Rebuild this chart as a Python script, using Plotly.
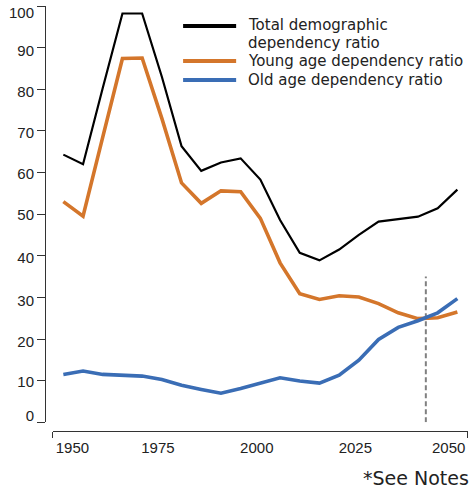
import plotly.graph_objects as go

# ---------------- data ----------------
years = [1950, 1955, 1960, 1965, 1970, 1975, 1980, 1985, 1990, 1995, 2000,
         2005, 2010, 2015, 2020, 2025, 2030, 2035, 2040, 2045, 2050]
total_ratio = [64.3, 62.0, 80.3, 98.2, 98.2, 83.0, 66.3, 60.4, 62.4, 63.4, 58.3,
               48.6, 40.7, 38.9, 41.5, 45.0, 48.2, 48.8, 49.4, 51.4, 55.9]
young_ratio = [53.0, 49.5, 68.5, 87.4, 87.5, 73.0, 57.5, 52.6, 55.6, 55.4, 49.0,
               38.3, 30.9, 29.5, 30.4, 30.1, 28.5, 26.3, 24.9, 25.1, 26.5]
old_ratio = [11.5, 12.3, 11.5, 11.3, 11.1, 10.3, 8.9, 7.9, 7.0, 8.1, 9.3,
             10.7, 9.9, 9.4, 11.3, 14.9, 19.9, 22.8, 24.4, 26.3, 29.7]

y_tick_values = [0, 10, 20, 30, 40, 50, 60, 70, 80, 90, 100]
y_tick_labels = ["0", "10", "20", "30", "40", "50", "60", "70", "80", "90", "100"]
x_tick_labels = ["1950", "1975", "2000", "2025", "2050"]

divider_year = 2042
divider_top = 35

series_names = ["Total demographic dependency ratio",
                "Young age dependency ratio",
                "Old age dependency ratio"]
legend_lines = ["Total demographic", "dependency ratio",
                "Young age dependency ratio", "Old age dependency ratio"]
note_text = "*See Notes"

# ---------------- styling / layout helpers ----------------
BLACK = "#000000"
ORANGE = "#D4762B"
BLUE = "#3A6DB5"
TEXT = "#222222"
AXIS = "#333333"

W, H = 472, 492
L, R, T, B = 45, 4.3, 6, 61.3
PW = W - L - R
PH = H - T - B


def pxx(x):
    return (x - L) / PW


def pxy(y):
    return (H - B - y) / PH


# label positions (slightly offset from the true years, as in the original artwork)
x_label_pos = [1952.3, 1974.0, 1999.1, 2024.1, 2047.8]
y_label_pos = [1.5, 9.8, 19.4, 29.3, 39.6, 49.8, 59.8, 69.6, 79.5, 89.2, 98.4]

tick_font = dict(family="Liberation Sans Narrow, Arial Narrow, Liberation Sans, sans-serif",
                 size=15, color=TEXT)
legend_font = dict(family="DejaVu Sans, Verdana, sans-serif", size=15, color=TEXT)

fig = go.Figure()

fig.add_trace(go.Scatter(x=[divider_year, divider_year], y=[0, divider_top],
                         mode="lines", line=dict(color="#808080", width=2, dash="5px,3px"),
                         showlegend=False, hoverinfo="skip"))
fig.add_trace(go.Scatter(x=years, y=young_ratio, mode="lines", name=series_names[1],
                         line=dict(color=ORANGE, width=3.6), showlegend=False))
fig.add_trace(go.Scatter(x=years, y=old_ratio, mode="lines", name=series_names[2],
                         line=dict(color=BLUE, width=3.6), showlegend=False))
fig.add_trace(go.Scatter(x=years, y=total_ratio, mode="lines", name=series_names[0],
                         yaxis="y2",
                         line=dict(color=BLACK, width=2.2), showlegend=False))

# manual legend
legend_rows_y = [25.3, 43.2, 61, 80]
swatch_rows = [(BLACK, 26), (ORANGE, 61), (BLUE, 80)]
for color, yy in swatch_rows:
    fig.add_shape(type="line", xref="paper", yref="paper",
                  x0=pxx(183), x1=pxx(236), y0=pxy(yy), y1=pxy(yy),
                  line=dict(color=color, width=4))
for text, yy in zip(legend_lines, legend_rows_y):
    fig.add_annotation(text=text, xref="paper", yref="paper", x=pxx(246), y=pxy(yy),
                       xanchor="left", yanchor="middle", showarrow=False, font=legend_font)

fig.add_annotation(text=note_text, xref="paper", yref="paper", x=pxx(471), y=pxy(478),
                   xanchor="right", yanchor="middle", showarrow=False,
                   font=dict(family="DejaVu Sans, Verdana, sans-serif", size=19, color=TEXT))

fig.update_layout(
    width=W, height=H,
    margin=dict(l=L, r=R, t=T, b=B, pad=0),
    paper_bgcolor="white", plot_bgcolor="white",
    showlegend=False,
    xaxis=dict(domain=[pxx(52.7), 1], range=[1947.3, 2052.7],
               anchor="free", position=0,
               showline=True, linecolor=AXIS, linewidth=1.3,
               showgrid=False, zeroline=False,
               ticks="", tickvals=x_label_pos, ticktext=x_tick_labels,
               tickfont=tick_font, ticklabelstandoff=3,
               minor=dict(ticks="outside", ticklen=6, tickcolor=AXIS, tickwidth=1.3,
                          tick0=1947.3, dtick=105.4, showgrid=False)),
    yaxis=dict(domain=[pxy(422), 1], range=[0, 100],
               anchor="free", position=0,
               showline=True, linecolor=AXIS, linewidth=1.3,
               showgrid=False, zeroline=False,
               ticks="outside", ticklen=8, tickcolor=AXIS, tickwidth=1.3,
               tickvals=y_tick_values, showticklabels=False),
    yaxis2=dict(domain=[pxy(422), 1], range=[0, 100], overlaying="y",
                anchor="free", position=0, showline=False, showgrid=False, zeroline=False,
                ticks="", tickvals=y_label_pos, ticktext=y_tick_labels,
                tickfont=tick_font, ticklabelstandoff=11),
)

fig.write_html("out.html", config={"displayModeBar": False},
               post_script="document.body.style.margin='0px';")
